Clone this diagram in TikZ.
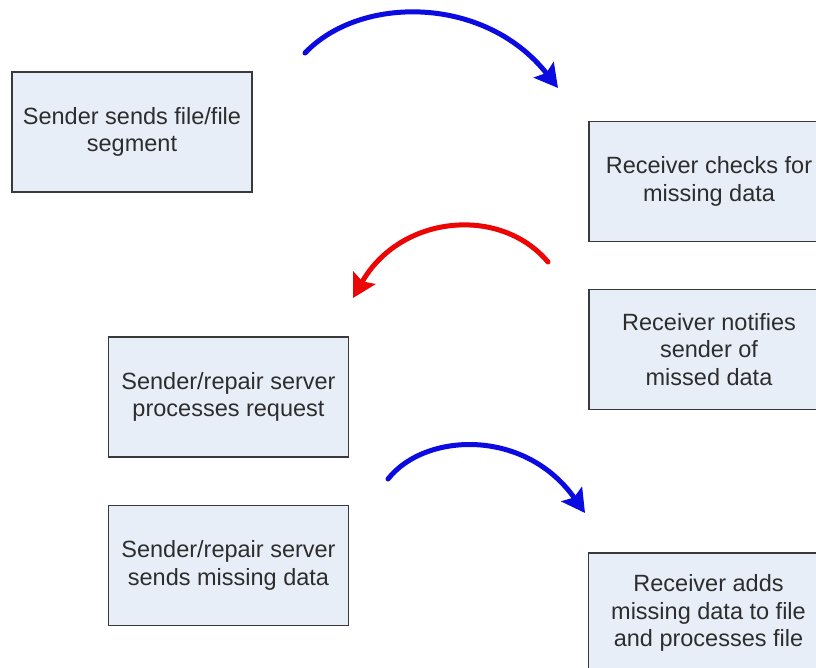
\documentclass[tikz,border=0pt]{standalone}
\usepackage{fontspec}
\setmainfont{Liberation Sans}
\usetikzlibrary{arrows.meta}
\definecolor{boxfill}{RGB}{232,238,248}
\definecolor{boxline}{RGB}{58,58,58}
\definecolor{boxtext}{RGB}{45,45,45}
\definecolor{arrblue}{RGB}{10,10,225}
\definecolor{arrred}{RGB}{235,5,5}
\begin{document}
\begin{tikzpicture}[x=1pt,y=-1pt,
  stepbox/.style={draw=boxline, line width=1.6pt, fill=boxfill, minimum width=240pt, minimum height=120pt,
    inner sep=0pt, align=center, text=boxtext, font=\fontsize{23.5}{27.5}\selectfont},
  curvearrow/.style={line width=5pt, line cap=round, -{Stealth[length=23pt,width=25pt,inset=4pt]}}]
\useasboundingbox (0,0) rectangle (816,667);
\clip (0,0) rectangle (816,667);
\fill[white] (0,0) rectangle (816,667);
\node[stepbox] (b1) at (132,132) {Sender sends file/file\\segment};
\node[stepbox] (b2) at (709,181.5) {Receiver checks for\\missing data};
\node[stepbox] (b3) at (709,349.5) {Receiver notifies\\sender of\\missed data};
\node[stepbox] (b4) at (228.5,397) {Sender/repair server\\processes request};
\node[stepbox] (b5) at (228.5,565.5) {Sender/repair server\\sends missing data};
\node[stepbox] (b6) at (708.5,613) {Receiver adds\\missing data to file\\and processes file};
\coordinate (a1s) at (305,53);
\coordinate (a1e) at (558,88);
\coordinate (a2s) at (548,262);
\coordinate (a2e) at (353,298);
\coordinate (a3s) at (388,479);
\coordinate (a3e) at (585,513);
\draw[curvearrow, arrblue] (a1s) .. controls (360,-5) and (485,-5) .. (a1e);
\draw[curvearrow, arrred] (a2s) .. controls (500,205) and (400,215) .. (a2e);
\draw[curvearrow, arrblue] (a3s) .. controls (425,432) and (525,428) .. (a3e);
\end{tikzpicture}
\end{document}
